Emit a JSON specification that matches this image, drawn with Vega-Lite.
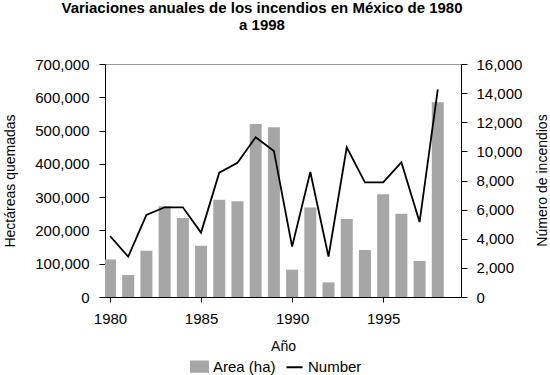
{
  "$schema": "https://vega.github.io/schema/vega-lite/v6.json",
  "width": 356,
  "height": 233,
  "autosize": "none",
  "padding": {"left": 105, "top": 64, "right": 89, "bottom": 78},
  "background": "white",
  "config": {
    "font": "Liberation Sans",
    "view": {"stroke": "#999999", "strokeWidth": 1},
    "axis": {"grid": false, "domainColor": "#000000", "tickColor": "#000000", "labelColor": "#000000", "titleColor": "#000000", "labelFont": "Liberation Sans", "titleFont": "Liberation Sans", "labelFontSize": 15, "titleFontSize": 14, "titleFontWeight": "normal", "tickSize": 5, "domainWidth": 1, "tickWidth": 1}
  },
  "title": {
    "text": ["Variaciones anuales de los incendios en México de 1980", "a 1998"],
    "fontSize": 15,
    "fontWeight": "bold",
    "font": "Liberation Sans",
    "color": "#000000",
    "lineHeight": 17,
    "anchor": "middle",
    "dx": -21,
    "offset": 24
  },
  "data": {
    "values": [
      {"year": 1980, "area": 113000, "number": 4190},
      {"year": 1981, "area": 66000, "number": 2770},
      {"year": 1982, "area": 139000, "number": 5630},
      {"year": 1983, "area": 273000, "number": 6160},
      {"year": 1984, "area": 237000, "number": 6160},
      {"year": 1985, "area": 154000, "number": 4420},
      {"year": 1986, "area": 292000, "number": 8540},
      {"year": 1987, "area": 288000, "number": 9220},
      {"year": 1988, "area": 520000, "number": 10970},
      {"year": 1989, "area": 510000, "number": 10030},
      {"year": 1990, "area": 82000, "number": 3460},
      {"year": 1991, "area": 269000, "number": 8580},
      {"year": 1992, "area": 44000, "number": 2770},
      {"year": 1993, "area": 234000, "number": 10280},
      {"year": 1994, "area": 141000, "number": 7870},
      {"year": 1995, "area": 309000, "number": 7870},
      {"year": 1996, "area": 250000, "number": 9250},
      {"year": 1997, "area": 108000, "number": 5150},
      {"year": 1998, "area": 585000, "number": 14260}
    ]
  },
  "layer": [
    {
      "mark": {"type": "bar", "size": 12, "clip": true},
      "encoding": {
        "x": {
          "field": "year", "type": "quantitative",
          "scale": {"domain": [1980, 1999], "nice": false, "zero": false},
          "axis": {"title": "Año", "values": [1980, 1985, 1990, 1995], "format": "d", "labelPadding": 9, "titlePadding": 13}
        },
        "y": {
          "field": "area", "type": "quantitative",
          "scale": {"domain": [0, 700000], "nice": false},
          "axis": {"title": "Hectáreas quemadas", "orient": "left", "values": [0, 100000, 200000, 300000, 400000, 500000, 600000, 700000], "format": ",d", "tickSize": 6, "labelPadding": 10, "titlePadding": 17}
        },
        "color": {
          "datum": "Area (ha)",
          "scale": {"domain": ["Area (ha)", "Number"], "range": ["#a6a6a6", "#000000"]},
          "legend": {
            "title": null,
            "orient": "none",
            "legendX": 85,
            "legendY": 293,
            "direction": "horizontal",
            "labelFontSize": 15,
            "labelFont": "Liberation Sans",
            "labelColor": "#000000",
            "symbolSize": 289,
            "columnPadding": 6,
            "labelOffset": 4,
            "padding": 0,
            "encode": {
              "symbols": {
                "update": {
                  "shape": {"signal": "datum.label === 'Number' ? 'M-0.95,0H0.95' : 'M-1,-0.6H1V0.6H-1Z'"},
                  "fill": {"signal": "datum.label === 'Number' ? 'transparent' : '#a6a6a6'"},
                  "stroke": {"signal": "datum.label === 'Number' ? '#000000' : 'transparent'"},
                  "strokeWidth": {"value": 2},
                  "opacity": {"value": 1},
                  "fillOpacity": {"value": 1}
                }
              }
            }
          }
        }
      }
    },
    {
      "mark": {"type": "line", "strokeWidth": 1.8, "clip": true},
      "encoding": {
        "x": {"field": "year", "type": "quantitative", "scale": {"domain": [1980, 1999], "nice": false, "zero": false}},
        "y": {
          "field": "number", "type": "quantitative",
          "scale": {"domain": [0, 16000], "nice": false},
          "axis": {"title": "Número de incendios", "orient": "right", "titleAngle": 270, "titleX": 81, "titleY": 116, "titleAlign": "center", "titleBaseline": "middle", "values": [0, 2000, 4000, 6000, 8000, 10000, 12000, 14000, 16000], "format": ",d", "tickSize": 6, "labelPadding": 9}
        },
        "color": {"datum": "Number"}
      }
    }
  ],
  "resolve": {"scale": {"y": "independent"}}
}
